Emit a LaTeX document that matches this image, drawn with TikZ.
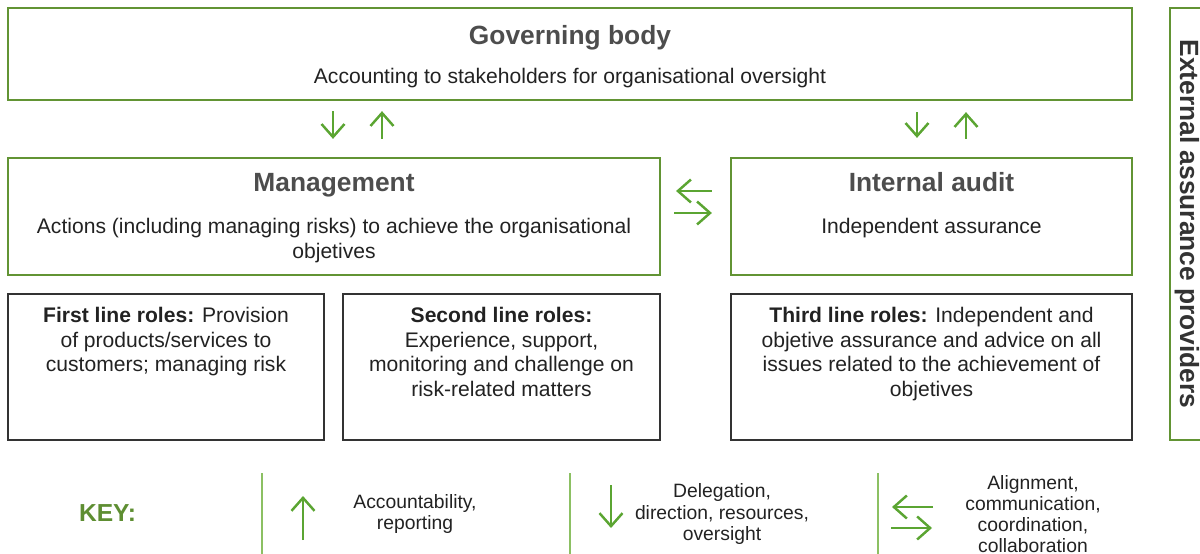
\documentclass[tikz,border=0pt]{standalone}
\usepackage{fontspec}
\setmainfont{Liberation Sans}
\usetikzlibrary{arrows.meta,positioning}

\definecolor{framegreen}{HTML}{629434}
\definecolor{arrowgreen}{HTML}{5BA532}
\definecolor{keygreen}{HTML}{5E8E32}
\definecolor{sepgreen}{HTML}{8CC063}
\definecolor{titlegray}{HTML}{4D4D4D}
\definecolor{bodygray}{HTML}{222222}
\definecolor{roleblack}{HTML}{333333}

\tikzset{
  greenbox/.style={draw=framegreen,line width=1.3pt,inner sep=0pt},
  rolebox/.style={draw=roleblack,line width=1.1pt,inner sep=0pt},
  boxtitle/.style={font=\fontsize{15}{18}\selectfont\bfseries,text=titlegray,anchor=base,inner sep=0pt},
  boxtext/.style={font=\fontsize{12}{14}\selectfont,text=bodygray,align=center,anchor=north,inner sep=0pt},
  keytext/.style={font=\fontsize{11}{12}\selectfont,text=bodygray,align=center,inner sep=0pt},
  flow/.style={draw=arrowgreen,line width=1.4pt,-{Straight Barb[length=2.6mm,width=4.6mm]}},
  keyline/.style={draw=sepgreen,line width=0.8pt},
}

\begin{document}
\begin{tikzpicture}[x=0.02cm,y=-0.02cm]
  \useasboundingbox (0,0) rectangle (1200,554);

  % governing body
  \node[greenbox,minimum width=22.48cm,minimum height=1.84cm] (gov) at (570,54) {};
  \node[boxtitle] (govtitle) at ([yshift=-0.76cm]gov.north) {Governing body};
  \node[boxtext] (govtext) at ([yshift=-1.22cm]gov.north) {Accounting to stakeholders for organisational oversight};

  % management and internal audit
  \node[greenbox,minimum width=13.04cm,minimum height=2.34cm] (mgmt) at (334,216.5) {};
  \node[boxtitle] (mgmttitle) at ([yshift=-0.7cm]mgmt.north) {Management};
  \node[boxtext] (mgmttext) at ([yshift=-1.22cm]mgmt.north) {Actions (including managing risks) to achieve the organisational\\objetives};

  \node[greenbox,minimum width=8.02cm,minimum height=2.34cm] (audit) at (931.5,216.5) {};
  \node[boxtitle] (audittitle) at ([yshift=-0.7cm]audit.north) {Internal audit};
  \node[boxtext] (audittext) at ([yshift=-1.22cm]audit.north) {Independent assurance};

  % roles
  \node[rolebox,minimum width=6.32cm,minimum height=2.92cm] (first) at (166,367) {};
  \node[boxtext] (firsttext) at ([yshift=-0.28cm]first.north) {\textbf{First line roles:} Provision\\of products/services to\\customers; managing risk};
  \node[rolebox,minimum width=6.34cm,minimum height=2.92cm] (second) at (501.5,367) {};
  \node[boxtext] (secondtext) at ([yshift=-0.28cm]second.north) {\textbf{Second line roles:}\\Experience, support,\\monitoring and challenge on\\risk-related matters};
  \node[rolebox,minimum width=8.02cm,minimum height=2.92cm] (third) at (931.5,367) {};
  \node[boxtext] (thirdtext) at ([yshift=-0.28cm]third.north) {\textbf{Third line roles:} Independent and\\objetive assurance and advice on all\\issues related to the achievement of\\objetives};

  % external assurance
  \node[greenbox,minimum width=0.76cm,minimum height=8.64cm] (ext) at (1189,224) {};
  \node[rotate=-90,font=\fontsize{15}{18}\selectfont\bfseries,text=roleblack,inner sep=0pt] (exttext) at ([xshift=-0.04cm]ext.center) {External assurance providers};

  % connectors
  \draw[flow,shorten <=2mm,shorten >=3.6mm] (gov.south -| 333,0) -- (mgmt.north -| 333,0);
  \draw[flow,shorten <=3.6mm,shorten >=2mm] (mgmt.north -| 382,0) -- (gov.south -| 382,0);
  \draw[flow,shorten <=2.2mm,shorten >=3.8mm] (gov.south -| 917,0) -- (audit.north -| 917,0);
  \draw[flow,shorten <=3.6mm,shorten >=2.2mm] (audit.north -| 966,0) -- (gov.south -| 966,0);
  \draw[flow,shorten <=3.6mm,shorten >=3mm] (audit.west |- 0,191) -- (mgmt.east |- 0,191);
  \draw[flow,shorten <=2.6mm,shorten >=3.6mm] (mgmt.east |- 0,213) -- (audit.west |- 0,213);

  % key
  \node[font=\fontsize{14}{16}\selectfont\bfseries,text=keygreen,inner sep=0pt] (key) at (107.5,513) {KEY:};
  \foreach \x in {262,570,878}
    \draw[keyline] (\x,473) -- (\x,554);
  \draw[flow] (303,540) -- (303,496);
  \node[keytext] (keyup) at (415,514) {Accountability,\\reporting};
  \draw[flow] (611,485) -- (611,528);
  \node[keytext] (keydown) at (722,514) {Delegation,\\direction, resources,\\oversight};
  \draw[flow] (933,507) -- (892,507);
  \draw[flow] (891,528) -- (932,528);
  \node[keytext] (keyboth) at (1033,514) {Alignment,\\communication,\\coordination,\\collaboration};
\end{tikzpicture}
\end{document}
